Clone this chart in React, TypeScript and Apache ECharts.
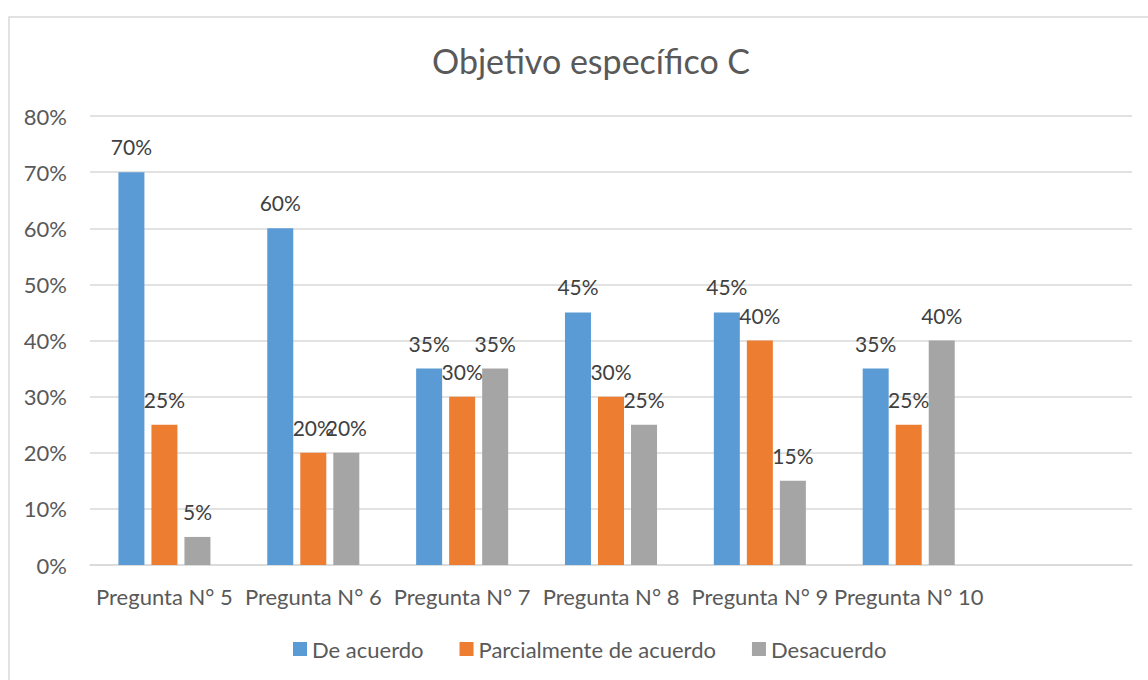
import React, { useEffect, useRef } from "react";
import * as echarts from "echarts";

const categories = ["Pregunta N° 5", "Pregunta N° 6", "Pregunta N° 7", "Pregunta N° 8", "Pregunta N° 9", "Pregunta N° 10", ""];
const deAcuerdo = [70, 60, 35, 45, 45, 35];
const parcialmente = [25, 20, 30, 30, 40, 25];
const desacuerdo = [5, 20, 35, 25, 15, 40];
const seriesNames = ["De acuerdo", "Parcialmente de acuerdo", "Desacuerdo"];
const colors = ["#5B9BD5", "#ED7D31", "#A5A5A5"];

const FONT = "Lato";
const TXT = "#595959";

export default function App() {
  const ref = useRef<HTMLDivElement>(null);
  useEffect(() => {
    const chart = echarts.init(ref.current!, null, { renderer: "svg" });
    const mk = (name: string, data: number[], color: string) => ({
      name,
      type: "bar",
      data,
      barWidth: 26,
      barGap: "27%",
      itemStyle: { color },
      label: {
        show: true,
        position: "top",
        distance: 15,
        formatter: "{c}%",
        color: "#404040",
        fontFamily: FONT,
        fontSize: 21,
      },
    });
    chart.setOption({
      animation: false,
      backgroundColor: "#fff",
      title: {
        text: "Objetivo específico C",
        left: 427,
        top: 38,
        textStyle: { fontFamily: FONT, fontSize: 34, fontWeight: "normal", color: TXT },
      },
      graphic: [
        {
          type: "rect",
          shape: { x: 9, y: 17, width: 1160, height: 700 },
          style: { fill: "none", stroke: "#d9d9d9", lineWidth: 1.5 },
          silent: true,
        },
      ],
      legend: {
        data: seriesNames,
        left: 288,
        top: 633,
        itemWidth: 14,
        itemHeight: 14,
        itemGap: 36,
        icon: "rect",
        textStyle: { fontFamily: FONT, fontSize: 22, color: TXT },
      },
      grid: { left: 90, right: 16, top: 116, bottom: 115, containLabel: false },
      xAxis: {
        type: "category",
        data: categories,
        axisLine: { lineStyle: { color: "#d9d9d9", width: 1.5 } },
        axisTick: { show: false },
        axisLabel: { fontFamily: FONT, fontSize: 22, color: TXT, margin: 20, interval: 0 },
      },
      yAxis: {
        type: "value",
        min: 0,
        max: 80,
        interval: 10,
        axisLine: { show: false },
        axisTick: { show: false },
        splitLine: { lineStyle: { color: "#d9d9d9", width: 1.5 } },
        axisLabel: { fontFamily: FONT, fontSize: 22, color: TXT, margin: 23, formatter: "{value}%" },
      },
      series: [
        mk(seriesNames[0], deAcuerdo, colors[0]),
        mk(seriesNames[1], parcialmente, colors[1]),
        mk(seriesNames[2], desacuerdo, colors[2]),
      ],
    });
    return () => chart.dispose();
  }, []);
  return <div ref={ref} style={{ position: "fixed", left: 0, top: 0, width: 1148, height: 680 }} />;
}
